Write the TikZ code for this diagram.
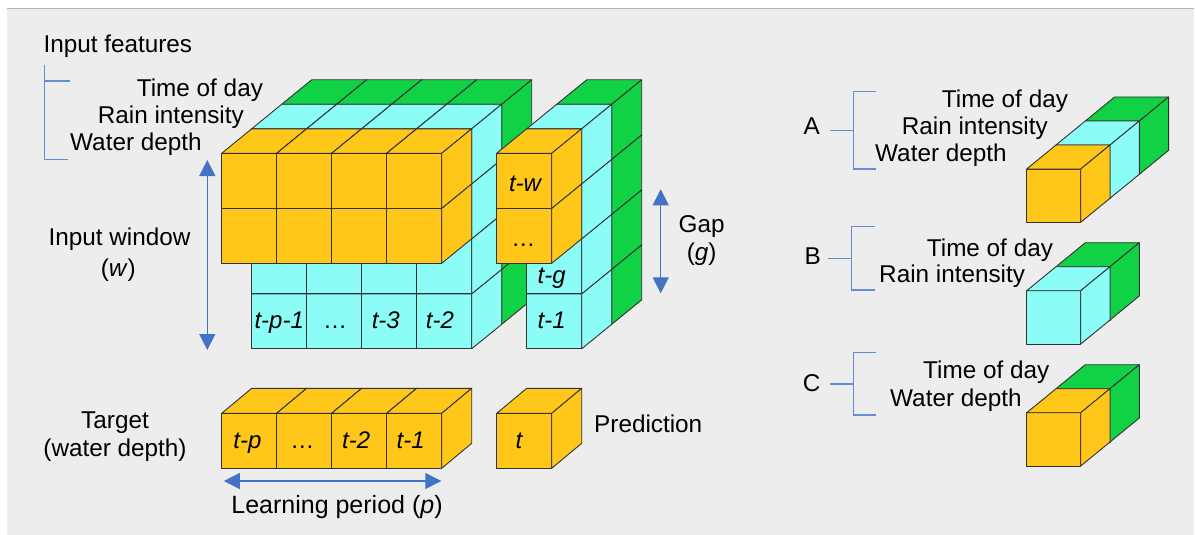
\documentclass[tikz,border=0pt]{standalone}
\usepackage{fontspec}
\setmainfont{Liberation Sans}
\usetikzlibrary{arrows.meta}
\definecolor{cyel}{RGB}{255,199,26}
\definecolor{ccya}{RGB}{140,252,247}
\definecolor{cgrn}{RGB}{17,210,69}
\definecolor{cline}{RGB}{50,50,50}
\definecolor{cblue}{RGB}{68,114,196}
\definecolor{cbrk}{RGB}{100,140,215}
\definecolor{cbg}{RGB}{237,237,237}
\definecolor{cborder}{RGB}{180,180,180}
\newcommand{\cubeat}[7]{%
 \pgfmathsetmacro\cxa{#1}\pgfmathsetmacro\cya{#2}%
 \pgfmathsetmacro\cxb{\cxa+#3}\pgfmathsetmacro\cyb{\cya+#4}%
 \pgfmathsetmacro\cxc{\cxa+#5}\pgfmathsetmacro\cxd{\cxb+#5}%
 \pgfmathsetmacro\cyc{\cya-#6}\pgfmathsetmacro\cyd{\cyb-#6}%
 \filldraw[cubeline,fill=#7] (\cxa,\cya) rectangle (\cxb,\cyb);
 \filldraw[cubeline,fill=#7] (\cxa,\cya) -- (\cxc,\cyc) -- (\cxd,\cyc) -- (\cxb,\cya) -- cycle;
 \filldraw[cubeline,fill=#7] (\cxb,\cya) -- (\cxd,\cyc) -- (\cxd,\cyd) -- (\cxb,\cyb) -- cycle;
}
\begin{document}
\begin{tikzpicture}[x=1pt,y=-1pt,
  cubeline/.style={draw=cline,line width=0.9pt,line join=round},
  lbl/.style={font=\fontsize{24.3}{28}\selectfont,inner sep=0pt,anchor=base west},
  clbl/.style={font=\fontsize{24}{28}\selectfont,inner sep=0pt,anchor=base},
  cilbl/.style={font=\fontsize{24}{28}\selectfont\itshape,inner sep=0pt,anchor=base},
  dblarrow/.style={draw=cblue,line width=1.4pt,{Triangle[length=16pt,width=16pt]}-{Triangle[length=16pt,width=16pt]}},
  brk/.style={draw=cbrk,line width=1.1pt}]
\useasboundingbox (0,0) rectangle (1195,535);
\fill[white] (0,0) rectangle (1195,535);
\fill[cbg] (7,9) rectangle (1194,535);
\draw[cborder,line width=1pt] (7,9) -- (1194,9);
% ---------- main block ----------
\foreach \ri in {4,3,2,1}{\foreach \ci in {0,1,2,3}{\cubeat{281.7+55*\ci}{104.3+55*(\ri-1)}{55}{55}{30}{24.5}{cgrn}}}
\foreach \ri in {4,3,2,1}{\foreach \ci in {0,1,2,3}{\cubeat{251.7+55*\ci}{128.8+55*(\ri-1)}{55}{55}{30}{24.5}{ccya}}}
\foreach \ri in {2,1}{\foreach \ci in {0,1,2,3}{\cubeat{221.7+55*\ci}{153.3+55*(\ri-1)}{55}{55}{30}{24.5}{cyel}}}
% ---------- right block ----------
\foreach \ri in {4,3,2,1}{\cubeat{556.7}{104.3+55*(\ri-1)}{55}{55}{30}{24.5}{cgrn}}
\foreach \ri in {4,3,2,1}{\cubeat{526.7}{128.8+55*(\ri-1)}{55}{55}{30}{24.5}{ccya}}
\foreach \ri in {2,1}{\cubeat{496.7}{153.3+55*(\ri-1)}{55}{55}{30}{24.5}{cyel}}
% labels in blocks
\node[cilbl] (ltp1) at (279.2,328.3) {t-p-1};
\node[clbl]  (ldm)  at (335,328.3) {…};
\node[cilbl] (lt3)  at (385.8,328.3) {t-3};
\node[cilbl] (lt2)  at (440,328.3) {t-2};
\node[cilbl] (ltw)  at (525,191.7) {t-w};
\node[clbl]  (ldr)  at (523.3,246.7) {…};
\node[cilbl] (ltg)  at (551.7,283.3) {t-g};
\node[cilbl] (lt1)  at (551.7,328.3) {t-1};
% ---------- bottom row ----------
\foreach \ci in {0,1,2,3}{\cubeat{221.7+55*\ci}{413.3}{55}{55}{30}{25}{cyel}}
\cubeat{496.7}{413.3}{55}{55}{30}{25}{cyel}
\node[cilbl] (btp) at (247.5,448.3) {t-p};
\node[clbl]  (bdt) at (302.4,448.3) {…};
\node[cilbl] (bt2) at (356.2,448.3) {t-2};
\node[cilbl] (bt1) at (410.6,448.3) {t-1};
\node[cilbl] (bt)  at (519,448.3) {t};
% ---------- texts ----------
\node[lbl] (inf) at (43.3,52.7) {Input features};
\node[lbl] (tod) at (136.7,96.7) {Time of day};
\node[lbl] (rin) at (97.7,123.3) {Rain intensity};
\node[lbl] (wde) at (70,150.7) {Water depth};
\node[lbl,anchor=base] (iw) at (119.5,245) {Input window};
\node[lbl,anchor=base] (iww) at (118.3,276.7) {(\textit{w})};
\node[lbl,anchor=base] (tg) at (115,428) {Target};
\node[lbl,anchor=base] (tgw) at (115,456) {(water depth)};
\node[lbl] (pred) at (594,432.7) {Prediction};
\node[lbl,anchor=base,font=\fontsize{25}{28}\selectfont] (lp) at (337,513.3) {Learning period (\textit{p})};
\node[lbl,anchor=base] (gap) at (701.7,232.7) {Gap};
\node[lbl,anchor=base] (gapg) at (701.7,260) {(\textit{g})};
% arrows
\coordinate (iwT) at (207.3,160); \coordinate (iwB) at (207.3,350);
\draw[dblarrow] (iwT) -- (iwB);
\coordinate (gT) at (660.7,189.3); \coordinate (gB) at (660.7,293.3);
\draw[dblarrow] (gT) -- (gB);
\coordinate (lpL) at (223.8,481); \coordinate (lpR) at (441.3,481);
\draw[dblarrow] (lpL) -- (lpR);
% input features bracket
\coordinate (ifA) at (44.3,65); \coordinate (ifB) at (44.3,159.3);
\coordinate (ifC) at (68,159.3); \coordinate (ifD) at (44.3,81); \coordinate (ifE) at (70,81);
\draw[brk] (ifA) -- (ifB) -- (ifC);
\draw[brk] (ifD) -- (ifE);
% ---------- right panel ----------
\node[lbl] (la) at (803.3,135) {A};
\node[lbl] (la1) at (941.7,107.3) {Time of day};
\node[lbl] (la2) at (901.7,135) {Rain intensity};
\node[lbl] (la3) at (875,161.7) {Water depth};
\coordinate (aS) at (830,130.7); \coordinate (aM) at (853.3,130.7);
\coordinate (aT) at (853.3,91.7); \coordinate (aTe) at (876,91.7);
\coordinate (aB) at (853.3,169); \coordinate (aBe) at (876,169);
\draw[brk] (aS) -- (aM);
\draw[brk] (aTe) -- (aT) -- (aB) -- (aBe);
\cubeat{1085.3}{121}{54}{53.3}{29.3}{24}{cgrn}
\cubeat{1056}{145}{54}{53.3}{29.3}{24}{ccya}
\cubeat{1026.7}{169}{54}{53.3}{29.3}{24}{cyel}
%
\node[lbl] (lb) at (804.3,264.3) {B};
\node[lbl] (lb1) at (926.7,256.7) {Time of day};
\node[lbl] (lb2) at (879,282.7) {Rain intensity};
\coordinate (bS) at (828,258.3); \coordinate (bM) at (851.7,258.3);
\coordinate (bT) at (851.7,226.7); \coordinate (bTe) at (875,226.7);
\coordinate (bB) at (851.7,290); \coordinate (bBe) at (875,290);
\draw[brk] (bS) -- (bM);
\draw[brk] (bTe) -- (bT) -- (bB) -- (bBe);
\cubeat{1056}{266.7}{54}{53.3}{29.3}{24}{cgrn}
\cubeat{1026.7}{290.7}{54}{53.3}{29.3}{24}{ccya}
%
\node[lbl] (lc) at (802.7,391.7) {C};
\node[lbl] (lc1) at (923,378.3) {Time of day};
\node[lbl] (lc2) at (890,406.7) {Water depth};
\coordinate (cS) at (830,384); \coordinate (cM) at (853.3,384);
\coordinate (cT) at (853.3,352.7); \coordinate (cTe) at (876,352.7);
\coordinate (cB) at (853.3,415); \coordinate (cBe) at (876,415);
\draw[brk] (cS) -- (cM);
\draw[brk] (cTe) -- (cT) -- (cB) -- (cBe);
\cubeat{1056}{388.7}{54}{53.3}{29.3}{24}{cgrn}
\cubeat{1026.7}{412.7}{54}{53.3}{29.3}{24}{cyel}
\end{tikzpicture}
\end{document}
